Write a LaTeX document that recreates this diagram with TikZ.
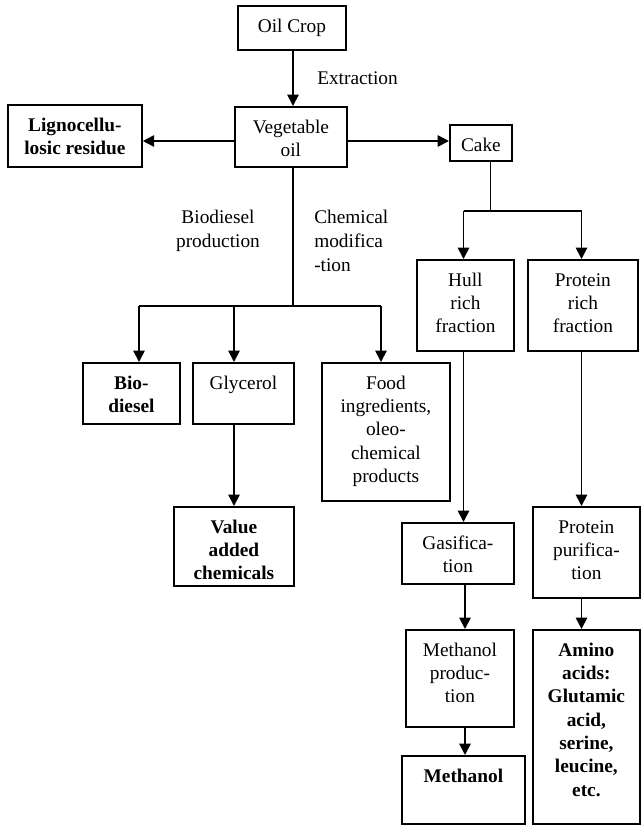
\documentclass[tikz,border=0pt]{standalone}
\usepackage{fontspec}
\setmainfont{Liberation Serif}
\usetikzlibrary{arrows.meta}

% one drawing unit = 0.75pt
\newdimen\pxu \pxu=0.75pt
% box content: width, height, text (top aligned with a fixed top margin)
\newcommand\boxtext[3]{\parbox[c][#2\pxu][t]{#1\pxu}{\centering\vspace*{7.5pt}\strut #3\par}}

\tikzset{
  basefont/.style={font=\fontsize{14.5pt}{17.5pt}\selectfont},
  box/.style={draw, line width=1.35pt, inner sep=0pt, anchor=north west, basefont},
  boldbox/.style={box, font=\fontsize{14.5pt}{17.5pt}\selectfont\bfseries},
  lbl/.style={inner sep=0pt, font=\fontsize{14.5pt}{18pt}\selectfont},
  wire/.style={line width=1.35pt},
  arr/.style={wire, -{Triangle[length=8.5pt,width=8.5pt]}}
}

\begin{document}
\begin{tikzpicture}[x=0.75pt, y=-0.75pt]
\useasboundingbox (0,0) rectangle (641,825);

% boxes
\node[box]     (crop)  at (237,5)   {\boxtext{108}{44}{Oil Crop}};
\node[box]     (veg)   at (234,106) {\boxtext{112}{60}{Vegetable\\oil}};
\node[boldbox] (lig)   at (7,104)   {\boxtext{134}{62}{Lignocellu-\\losic residue}};
\node[box]     (cake)  at (449,124) {\boxtext{62}{36}{Cake}};
\node[boldbox] (bio)   at (82,362)  {\boxtext{97}{61}{Bio-\\diesel}};
\node[box]     (gly)   at (192,362) {\boxtext{101}{61}{Glycerol}};
\node[box]     (food)  at (321,362) {\boxtext{128}{138}{Food\\ingredients,\\oleo-\\chemical\\products}};
\node[boldbox] (val)   at (173,506) {\boxtext{120}{79}{Value\\added\\chemicals}};
\node[box]     (hull)  at (416,259) {\boxtext{97}{91}{Hull\\rich\\fraction}};
\node[box]     (prot)  at (527,259) {\boxtext{110}{91}{Protein\\rich\\fraction}};
\node[box]     (gas)   at (401,522) {\boxtext{112}{61}{Gasifica-\\tion}};
\node[box]     (ppur)  at (532,506) {\boxtext{107}{91}{Protein\\purifica-\\tion}};
\node[box]     (mprod) at (405,629) {\boxtext{108}{97}{Methanol\\produc-\\tion}};
\node[boldbox] (meth)  at (401,755) {\boxtext{123}{68}{Methanol}};
\node[boldbox] (amino) at (532,629) {\boxtext{107}{194}{Amino\\acids:\\Glutamic\\acid,\\serine,\\leucine,\\etc.}};

% process labels
\node[lbl, anchor=base west] (ext) at (317,84) {Extraction};
\node[lbl, anchor=north, align=center] (biolbl) at (218,210) {Biodiesel\\production};
\node[lbl, anchor=north west, align=left] (chemlbl) at (314,210) {Chemical\\modifica\\-tion};

% branch points
\coordinate (cv) at (293,0);
\coordinate (hy) at (0,141);
\coordinate (jv) at (293,306);
\coordinate (b1) at (139,306);
\coordinate (g1) at (234,306);
\coordinate (f1) at (381,306);
\coordinate (kc) at (490.5,211);
\coordinate (h1) at (463.5,211);
\coordinate (p1) at (581.5,211);
\coordinate (m1) at (465,0);

% oil crop and its first products
\draw[arr] (crop.south -| cv) -- (veg.north -| cv);
\draw[arr] (veg.west |- hy) -- (lig.east |- hy);
\draw[arr] (veg.east |- hy) -- (cake.west |- hy);

% vegetable oil branch
\draw[wire] (veg.south -| jv) -- (jv);
\draw[wire] (b1) -- (f1);
\draw[arr] (b1) -- (b1 |- bio.north);
\draw[arr] (g1) -- (g1 |- gly.north);
\draw[arr] (f1) -- (f1 |- food.north);
\draw[arr] (gly.south -| g1) -- (val.north -| g1);

% cake branch
\draw[wire] (cake.south -| kc) -- (kc);
\draw[wire] (h1) -- (p1);
\draw[arr] (h1) -- (h1 |- hull.north);
\draw[arr] (p1) -- (p1 |- prot.north);
\draw[arr] (hull.south -| h1) -- (gas.north -| h1);
\draw[arr] (gas.south -| m1) -- (mprod.north -| m1);
\draw[arr] (mprod.south -| m1) -- (meth.north -| m1);
\draw[arr] (prot.south -| p1) -- (ppur.north -| p1);
\draw[arr] (ppur.south -| p1) -- (amino.north -| p1);
\end{tikzpicture}
\end{document}
